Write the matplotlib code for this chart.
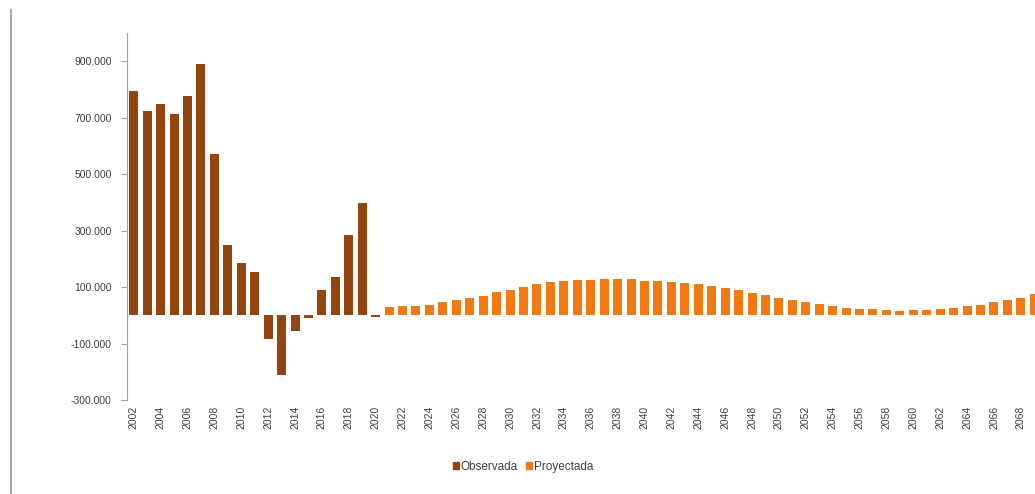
import matplotlib.pyplot as plt
from matplotlib.patches import Patch
from matplotlib.lines import Line2D
from matplotlib.ticker import FuncFormatter

# Datos observados (2002-2020)
anios_obs = list(range(2002, 2021))
valores_obs = [794000, 723000, 749000, 714000, 778000, 889000, 573000, 249000, 184000, 155000,
               -85000, -211000, -57000, -8000, 90000, 135000, 285000, 398000, -5000]

# Datos proyectados (2021-2069)
anios_proy = list(range(2021, 2070))
valores_proy = [30000, 32000, 33000, 38000, 46000, 53000, 60000, 69000, 81000, 90000,
                102000, 112000, 119000, 123000, 124000, 124000, 127000, 127000, 128000, 123000,
                121000, 119000, 114000, 110000, 104000, 95000, 88000, 78000, 72000, 60000,
                53000, 47000, 39000, 32000, 26000, 23000, 21000, 19000, 17000, 19000,
                20000, 22000, 27000, 32000, 38000, 46000, 53000, 60000, 74000]

etiquetas_x = [str(a) for a in range(2002, 2070, 2)]
ticks_y = [-300000, -100000, 100000, 300000, 500000, 700000, 900000]

color_obs = '#934510'
color_proy = '#F27A12'
color_texto = '#404040'

plt.rcParams['font.family'] = ['Liberation Sans', 'DejaVu Sans']

fig = plt.figure(figsize=(10.35, 4.94), dpi=100)
W, H = 1035, 494
ax = fig.add_axes([127 / W, 1 - 400 / H, (1041 - 127) / W, 367 / H])

ax.bar(anios_obs, valores_obs, width=0.67, color=color_obs)
ax.bar(anios_proy, valores_proy, width=0.67, color=color_proy)

ax.set_xlim(2001.5, 2069.5)
ax.set_ylim(-300000, 1000000)

ax.set_yticks(ticks_y)
ax.yaxis.set_major_formatter(FuncFormatter(lambda v, p: f'{int(v):,}'.replace(',', '.')))
ax.set_xticks(range(2002, 2070, 2))
ax.set_xticklabels(etiquetas_x, rotation=90)

ax.tick_params(axis='y', labelsize=7.5, colors=color_texto, length=4, width=0.8, color='#A0A0A0', pad=7)
ax.tick_params(axis='x', labelsize=7.5, colors=color_texto, length=0, pad=4)

for lado in ['top', 'right', 'bottom']:
    ax.spines[lado].set_visible(False)
ax.spines['left'].set_color('#A0A0A0')
ax.spines['left'].set_linewidth(0.8)

# Línea gris vertical a la izquierda de la figura
fig.add_artist(Line2D([11 / W, 11 / W], [0, 1 - 10 / H], color='#A8A8A8', linewidth=1.5))

# Leyenda
handles = [Patch(color=color_obs, label='Observada'), Patch(color=color_proy, label='Proyectada')]
fig.legend(handles=handles, loc='center', bbox_to_anchor=(523 / W, 1 - 467 / H), ncol=2,
           frameon=False, fontsize=8.5, handlelength=0.5, handleheight=0.5,
           handletextpad=0.15, columnspacing=0.7, labelcolor=color_texto)

fig.savefig('out.png', dpi=100)
